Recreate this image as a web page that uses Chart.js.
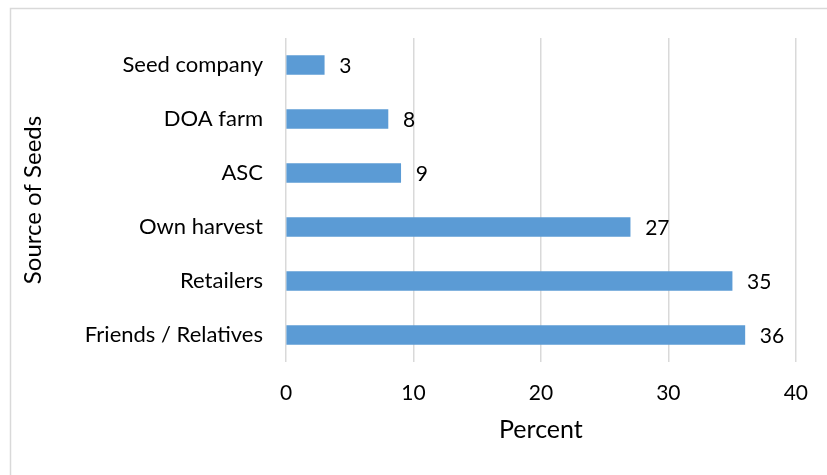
<!DOCTYPE html>
<html>
<head>
<meta charset="utf-8">
<script src="https://cdn.jsdelivr.net/npm/chart.js@4.4.0/dist/chart.umd.min.js"></script>
<style>
  html, body { margin: 0; padding: 0; background: #ffffff; }
  #wrap { position: relative; width: 827px; height: 475px; }
</style>
</head>
<body>
<div id="wrap"><canvas id="c" width="827" height="475"></canvas></div>
<script>
const categories = ["Seed company", "DOA farm", "ASC", "Own harvest", "Retailers", "Friends / Relatives"];
const percentValues = [3, 8, 9, 27, 35, 36];
const xTickValues = [0, 10, 20, 30, 40];
const xAxisTitle = "Percent";
const yAxisTitle = "Source of Seeds";

const FONT = "Lato, 'Open Sans', 'Liberation Sans', sans-serif";
const TEXT = "#000000";
const GRID = "#d9d9d9";

const frame = {
  id: 'frame',
  beforeDraw(chart) {
    const ctx = chart.ctx;
    ctx.save();
    ctx.fillStyle = '#ffffff';
    ctx.fillRect(0, 0, chart.width, chart.height);
    ctx.strokeStyle = GRID;
    ctx.lineWidth = 1.5;
    ctx.beginPath();
    ctx.moveTo(10.5, chart.height + 5);
    ctx.lineTo(10.5, 8.5);
    ctx.lineTo(chart.width + 5, 8.5);
    ctx.stroke();
    ctx.restore();
  }
};

const valueLabels = {
  id: 'valueLabels',
  afterDatasetsDraw(chart) {
    const ctx = chart.ctx;
    const meta = chart.getDatasetMeta(0);
    ctx.save();
    ctx.font = "21px " + FONT;
    ctx.fillStyle = TEXT;
    ctx.textAlign = 'left';
    ctx.textBaseline = 'middle';
    meta.data.forEach((bar, i) => {
      ctx.fillText(String(chart.data.datasets[0].data[i]), bar.x + 15, bar.y + 1);
    });
    ctx.restore();
  }
};

new Chart(document.getElementById('c'), {
  type: 'bar',
  data: {
    labels: categories,
    datasets: [{
      data: percentValues,
      backgroundColor: '#5b9bd5',
      borderWidth: 0,
      barThickness: 19
    }]
  },
  plugins: [frame, valueLabels],
  options: {
    indexAxis: 'y',
    responsive: false,
    animation: false,
    devicePixelRatio: 1,
    layout: { padding: { left: 15, right: 31, top: 38, bottom: 26 } },
    plugins: { legend: { display: false }, tooltip: { enabled: false } },
    scales: {
      x: {
        type: 'linear',
        min: 0,
        max: 40,
        afterBuildTicks(scale) { scale.ticks = xTickValues.map(v => ({ value: v })); },
        afterFit(scale) { scale.height = 87; },
        grid: { color: GRID, lineWidth: 1.5, drawTicks: false },
        border: { display: false },
        ticks: { color: TEXT, font: { family: FONT, size: 21 }, padding: 19 },
        title: { display: true, text: xAxisTitle, color: TEXT, font: { family: FONT, size: 25 }, padding: { top: 4 } }
      },
      y: {
        afterFit(scale) { scale.width = 271; },
        grid: { display: false },
        border: { display: false },
        ticks: { color: TEXT, font: { family: FONT, size: 22 }, padding: 15 },
        title: { display: true, text: yAxisTitle, color: TEXT, font: { family: FONT, size: 24 }, padding: { bottom: 0 } }
      }
    }
  }
});
</script>
</body>
</html>
